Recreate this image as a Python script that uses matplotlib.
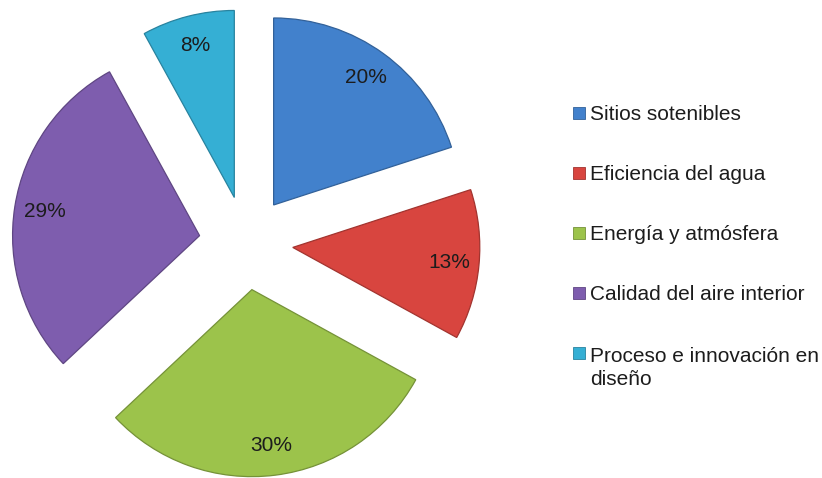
import matplotlib.pyplot as plt
from matplotlib.patches import Rectangle
from matplotlib.colors import to_rgb

plt.rcParams['font.family'] = ['Liberation Sans', 'DejaVu Sans']

# Distribución de créditos por categoría (%)
categorias = ['Sitios sotenibles', 'Eficiencia del agua', 'Energía y atmósfera',
              'Calidad del aire interior', 'Proceso e innovación en\ndiseño']
porcentajes = [20, 13, 30, 29, 8]
colores = ['#4281cc', '#d8453f', '#9cc34b', '#7e5dae', '#35afd4']


def oscurecer(c, f=0.75):
    r, g, b = to_rgb(c)
    return (r * f, g * f, b * f)


fig = plt.figure(figsize=(8.22, 4.78), dpi=100)
ax = fig.add_axes([0, 0, 1, 1])

# el eje trabaja en pixeles de la figura para ubicar la torta
wedges, textos, autotextos = ax.pie(
    porcentajes, colors=colores, startangle=90, counterclock=False,
    center=(246, 235), radius=187, explode=[47] * len(porcentajes),
    autopct='%1.0f%%', pctdistance=0.84,
    wedgeprops=dict(linewidth=0.9),
    textprops=dict(fontsize=15, color='#1c1c1c'))
for w, c in zip(wedges, colores):
    w.set_edgecolor(oscurecer(c))

ax.set_xlim(0, 822)
ax.set_ylim(0, 478)
ax.set_aspect('equal')
ax.axis('off')

# leyenda a la derecha
for i, (cat, c) in enumerate(zip(categorias, colores)):
    yc = 113 + i * 60
    fig.add_artist(Rectangle((573 / 822, 1 - (yc + 6) / 478), 12 / 822, 12 / 478,
                             transform=fig.transFigure, facecolor=c,
                             edgecolor=oscurecer(c), linewidth=0.6))
    # la línea base que se alinea es la de la última línea del texto
    yb = yc + 7 + 25 * cat.count('\n')
    fig.text(590 / 822, 1 - yb / 478, cat, fontsize=15, color='#1c1c1c',
             va='baseline', ha='left', linespacing=1.3)

fig.savefig('out.png', dpi=100)
